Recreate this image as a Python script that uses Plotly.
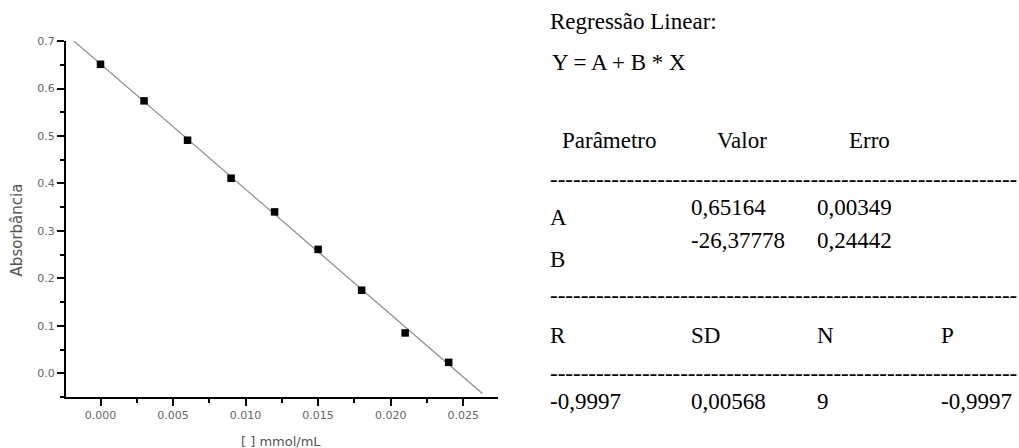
import plotly.graph_objects as go

# ---- data ----
conc = [0.000, 0.003, 0.006, 0.009, 0.012, 0.015, 0.018, 0.021, 0.024]
absorb = [0.651, 0.574, 0.491, 0.411, 0.340, 0.261, 0.175, 0.085, 0.023]
fit_A = 0.65164
fit_B = -26.37778
fit_x = [-0.00183, 0.02632]

x_range = [-0.00238, 0.0274]
y_range = [-0.05, 0.7001]

x_title = "[ ] mmol/mL"
y_title = "Absorbância"

# text table
title_lines = ["Regressão Linear:", "Y = A + B * X"]
header = ["Parâmetro", "Valor", "Erro"]
param_names = ["A", "B"]
param_values = ["0,65164", "-26,37778"]
param_errors = ["0,00349", "0,24442"]
stat_names = ["R", "SD", "N", "P"]
stat_values = ["-0,9997", "0,00568", "9", "-0,9997"]

W, H = 1019, 448
L, R_ = 66, 498
T, B_ = 40.5, 396.7

fig = go.Figure()
fig.add_trace(go.Scatter(
    x=fit_x, y=[fit_A + fit_B * v for v in fit_x], mode="lines",
    line=dict(color="#8a8a8a", width=1.2), hoverinfo="skip"))
fig.add_trace(go.Scatter(
    x=conc, y=absorb, mode="markers",
    marker=dict(symbol="square", size=7.5, color="black")))

tickfont = dict(family="DejaVu Sans", size=11, color="#666666")
fig.update_xaxes(
    range=x_range, tick0=0, dtick=0.005, tickformat=".3f",
    showline=True, linecolor="black", linewidth=2,
    ticks="outside", ticklen=7, tickwidth=1.5, tickcolor="black",
    minor=dict(dtick=0.0025, ticks="outside", ticklen=4, tickwidth=1.5, tickcolor="black"),
    showgrid=False, zeroline=False, tickfont=tickfont)
fig.update_yaxes(
    range=y_range, tick0=0, dtick=0.1, tickformat=".1f",
    showline=True, linecolor="black", linewidth=2,
    ticks="outside", ticklen=7, tickwidth=1.5, tickcolor="black",
    minor=dict(dtick=0.05, ticks="outside", ticklen=4, tickwidth=1.5, tickcolor="black"),
    showgrid=False, zeroline=False, tickfont=tickfont)

def px(xp):
    return (xp - L) / (R_ - L)

def py(yp):
    return (B_ - yp) / (B_ - T)

# axis titles
fig.add_annotation(text=x_title, x=px(281), y=py(441), xref="paper", yref="paper",
                   xanchor="center", yanchor="middle", showarrow=False,
                   font=dict(family="DejaVu Sans", size=13, color="#555555"))
fig.add_annotation(text=y_title, x=px(17), y=py(230), xref="paper", yref="paper",
                   xanchor="center", yanchor="middle", showarrow=False, textangle=-90,
                   font=dict(family="DejaVu Sans", size=15, color="#555555"))

serif = dict(family="Liberation Serif", size=23, color="black")

def add_text(text, xp, yp):
    fig.add_annotation(text=text, x=px(xp), y=py(yp), xref="paper", yref="paper",
                       xanchor="left", yanchor="middle", showarrow=False, font=serif)

dashes = "-" * 61

add_text(title_lines[0], 548, 21)
add_text(title_lines[1], 550, 62.5)
add_text(header[0], 560, 140)
add_text(header[1], 715, 140)
add_text(header[2], 847, 140)
add_text(dashes, 548, 179.5)
add_text(param_values[0], 689, 207)
add_text(param_errors[0], 815, 207)
add_text(param_names[0], 548, 217.5)
add_text(param_values[1], 689, 240)
add_text(param_errors[1], 815, 240)
add_text(param_names[1], 548, 259)
add_text(dashes, 548, 295.5)
for name, xp in zip(stat_names, [548, 689, 815, 939]):
    add_text(name, xp, 335)
add_text(dashes, 548, 373.5)
for val, xp in zip(stat_values, [548, 689, 815, 939]):
    add_text(val, xp, 401)

fig.update_layout(
    width=W, height=H, showlegend=False,
    margin=dict(l=L, r=W - R_, t=T, b=H - B_),
    paper_bgcolor="white", plot_bgcolor="white")

fig.write_html("out.html")
